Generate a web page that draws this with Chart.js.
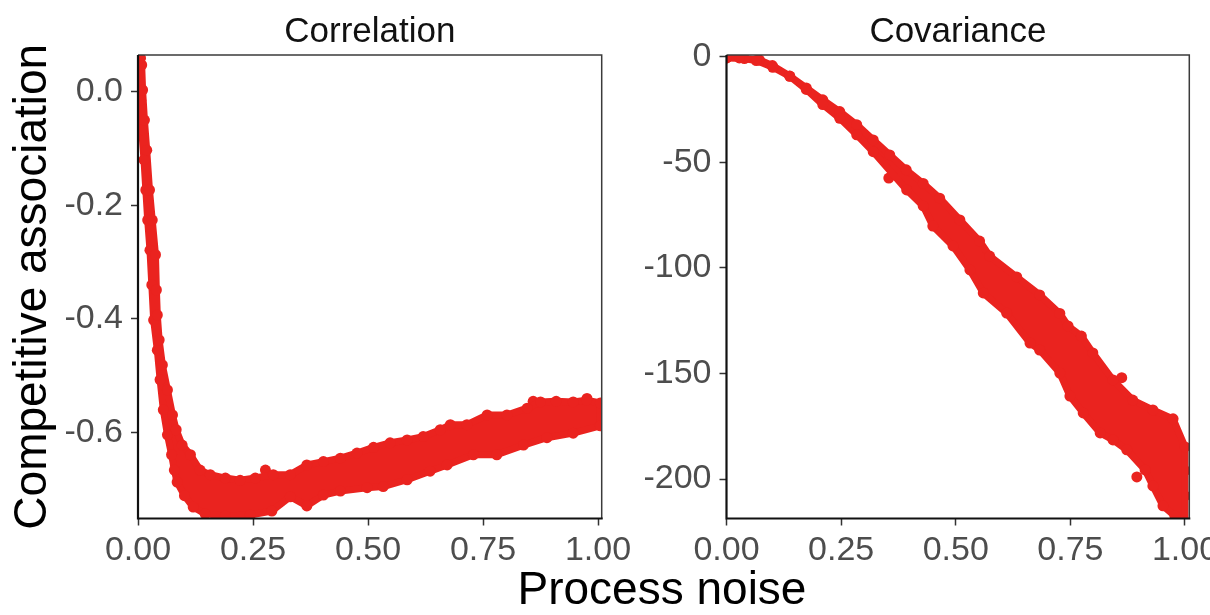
<!DOCTYPE html>
<html lang="en">
<head>
<meta charset="utf-8">
<title>Competitive association vs process noise</title>
<script src="https://cdn.jsdelivr.net/npm/chart.js@4.4.1/dist/chart.umd.min.js"></script>
<style>
  html, body { margin: 0; padding: 0; background: #fff; overflow: hidden; }
  #stage { position: relative; width: 1210px; height: 615px; overflow: hidden; }
  canvas { position: absolute; top: 0; }
  #corrChart { left: 0; }
  #covChart { left: 640px; }
  #xTitle {
    position: absolute; left: 662px; top: 565px; transform: translateX(-50%);
    font: 46px 'Liberation Sans', Arial, sans-serif; line-height: 46px;
    color: #000; white-space: nowrap;
  }
</style>
</head>
<body>
<div id="stage">
  <canvas id="corrChart" width="660" height="615"></canvas>
  <canvas id="covChart" width="600" height="615"></canvas>
  <div id="xTitle">Process noise</div>
</div>
<script>
// Shared x axis (process noise)
const xTicks = [0, 0.25, 0.5, 0.75, 1];
const xTickLabels = ['0.00', '0.25', '0.50', '0.75', '1.00'];

// Correlation panel
const corrYTicks = [0, -0.2, -0.4, -0.6];
const corrYTickLabels = ['0.0', '-0.2', '-0.4', '-0.6'];
// outer edge of the cloud: down the steep drop, then along the bottom
const corrOuterX = [0.005, 0.006, 0.008, 0.013, 0.017, 0.021, 0.026, 0.030, 0.034, 0.042,
                    0.048, 0.055, 0.064, 0.073, 0.079, 0.085, 0.101, 0.120, 0.146, 0.190,
                    0.244, 0.291, 0.331, 0.367, 0.403, 0.440, 0.498, 0.533, 0.585, 0.635,
                    0.672, 0.729, 0.780, 0.838, 0.889, 0.946, 1.005];
const corrOuterY = [0.059, -0.015, -0.067, -0.120, -0.173, -0.226, -0.279, -0.340, -0.402, -0.455,
                    -0.507, -0.560, -0.604, -0.639, -0.666, -0.687, -0.711, -0.731, -0.743, -0.747,
                    -0.745, -0.738, -0.713, -0.729, -0.710, -0.703, -0.697, -0.695, -0.683, -0.668,
                    -0.657, -0.639, -0.639, -0.622, -0.609, -0.601, -0.588];
// inner edge: back along the top of the cloud, then up the drop
const corrInnerX = [1.005, 0.975, 0.946, 0.909, 0.875, 0.846, 0.802, 0.759, 0.715, 0.679,
                    0.657, 0.620, 0.585, 0.548, 0.512, 0.476, 0.440, 0.403, 0.367, 0.331,
                    0.294, 0.255, 0.222, 0.190, 0.157, 0.135, 0.114, 0.096, 0.083, 0.075,
                    0.064, 0.053, 0.046, 0.042, 0.040, 0.038, 0.031, 0.025, 0.019, 0.014,
                    0.010, 0.008];
const corrInnerY = [-0.548, -0.543, -0.546, -0.545, -0.546, -0.557, -0.569, -0.569, -0.586, -0.586,
                    -0.595, -0.607, -0.613, -0.618, -0.626, -0.636, -0.645, -0.651, -0.657, -0.674,
                    -0.674, -0.680, -0.684, -0.680, -0.674, -0.666, -0.639, -0.622, -0.595, -0.569,
                    -0.525, -0.481, -0.437, -0.393, -0.349, -0.287, -0.226, -0.173, -0.103, -0.050,
                    0.003, 0.047];
// single runs sticking out of the cloud
const corrStrayX = [0.277, 0.859, 0.976];
const corrStrayY = [-0.666, -0.545, -0.540];

// Covariance panel
const covYTicks = [0, -50, -100, -150, -200];
const covYTickLabels = ['0', '-50', '-100', '-150', '-200'];
const covUpperX = [0.000, 0.039, 0.072, 0.100, 0.138, 0.174, 0.210, 0.247, 0.284, 0.320,
                   0.356, 0.392, 0.429, 0.465, 0.509, 0.552, 0.574, 0.633, 0.683, 0.727,
                   0.745, 0.774, 0.799, 0.843, 0.886, 0.930, 0.974, 1.000];
const covUpperY = [-0.6, -0.9, -1.6, -4.2, -9.2, -14.8, -20.4, -26.0, -32.2, -39.4,
                   -46.5, -53.6, -60.0, -67.0, -77.3, -87.3, -94.4, -104.3, -112.8, -121.6,
                   -127.5, -132.3, -140.3, -153.1, -162.6, -167.3, -171.5, -184.8];
const covLowerX = [0.000, 0.028, 0.065, 0.101, 0.138, 0.174, 0.210, 0.247, 0.284, 0.320,
                   0.393, 0.429, 0.450, 0.494, 0.531, 0.560, 0.611, 0.662, 0.683, 0.727,
                   0.749, 0.778, 0.815, 0.843, 0.873, 0.913, 0.930, 0.952, 0.978, 1.000];
const covLowerY = [-0.4, -0.6, -1.8, -5.0, -9.3, -15.5, -22.7, -29.2, -37.0, -45.0,
                   -63.1, -70.7, -80.2, -89.6, -101.0, -111.9, -121.4, -135.6, -138.9, -149.8,
                   -160.7, -168.7, -178.2, -181.5, -186.2, -195.7, -203.3, -212.7, -217.5, -220.3];
const covStrayX = [0.354, 0.862, 0.895, 1.000, 1.000];
const covStrayY = [-57.5, -152.0, -199.0, -196.0, -208.0];

const RED = 'rgb(234, 35, 31)';
const FONT = "'Liberation Sans', Arial, Helvetica, sans-serif";
const DOT = 5.5;

function toPoints(xs, ys) {
    return xs.map((x, i) => ({ x: x, y: ys[i] }));
}

// close the outline back onto its first point
function closeRing(points) {
    return points.concat([points[0]]);
}

// Panel box: thin top/right edges, heavier axis lines drawn over the points
const panelFrame = {
    id: 'panelFrame',
    afterDatasetsDraw(chart) {
        const { ctx, chartArea: a } = chart;
        ctx.save();
        ctx.strokeStyle = '#3b3b3b';
        ctx.lineWidth = 1.5;
        ctx.beginPath();
        ctx.moveTo(a.left, a.top);
        ctx.lineTo(a.right, a.top);
        ctx.lineTo(a.right, a.bottom);
        ctx.stroke();
        ctx.strokeStyle = '#111';
        ctx.lineWidth = 2.2;
        ctx.beginPath();
        ctx.moveTo(a.left, a.top);
        ctx.lineTo(a.left, a.bottom);
        ctx.lineTo(a.right + 1, a.bottom);
        ctx.stroke();
        ctx.restore();
    }
};

// Facet label centred over the plotting area
const panelTitle = {
    id: 'panelTitle',
    afterDraw(chart, args, opts) {
        const { ctx, chartArea: a } = chart;
        ctx.save();
        ctx.font = '35px ' + FONT;
        ctx.fillStyle = '#111';
        ctx.textAlign = 'center';
        ctx.textBaseline = 'alphabetic';
        ctx.fillText(opts.text, (a.left + a.right) / 2, a.top - 13);
        ctx.restore();
    }
};

function axisOptions(o) {
    return {
        type: 'linear',
        min: o.min,
        max: o.max,
        afterBuildTicks: scale => {
            scale.ticks = o.ticks.map(v => ({ value: v }));
        },
        afterFit: scale => {
            // fixed axis sizes so both panels line up
            if (o.width !== undefined) scale.width = o.width;
            if (o.height !== undefined) scale.height = o.height;
            scale.paddingLeft = scale.paddingRight = 0;
            scale.paddingTop = scale.paddingBottom = 0;
        },
        ticks: {
            autoSkip: false,
            maxRotation: 0,
            minRotation: 0,
            padding: o.pad,
            color: '#4d4d4d',
            font: { family: FONT, size: 34 },
            callback: (value, index) => o.labels[index]
        },
        grid: {
            drawOnChartArea: false,
            drawTicks: true,
            tickLength: 7,
            tickWidth: 1.5,
            tickColor: '#333',
            color: 'rgba(0,0,0,0)'
        },
        border: { display: false },
        title: o.title ? {
            display: true,
            text: o.title,
            color: '#000',
            font: { family: FONT, size: 46 },
            padding: { top: 6, bottom: 0 }
        } : { display: false }
    };
}

function cloudDatasets(outline, strays) {
    const dot = {
        pointRadius: DOT,
        pointHoverRadius: DOT,
        pointBackgroundColor: RED,
        pointBorderWidth: 0,
        pointBorderColor: RED
    };
    return [
        // dense part of the cloud: filled outline with a dot on every
        // outermost run; the stroke keeps narrow stretches solid
        Object.assign({
            data: closeRing(outline),
            fill: 'shape',
            backgroundColor: RED,
            borderColor: RED,
            borderWidth: 7,
            borderJoinStyle: 'round',
            borderCapStyle: 'round',
            tension: 0
        }, dot),
        Object.assign({
            data: strays,
            showLine: false,
            fill: false
        }, dot)
    ];
}

function makePanel(canvasId, cfg) {
    return new Chart(document.getElementById(canvasId), {
        type: 'line',
        data: { datasets: cloudDatasets(cfg.outline, cfg.strays) },
        options: {
            responsive: false,
            animation: false,
            devicePixelRatio: 1,
            events: [],
            layout: { padding: cfg.padding },
            plugins: {
                legend: { display: false },
                tooltip: { enabled: false },
                panelTitle: { text: cfg.title }
            },
            scales: {
                x: axisOptions({
                    min: cfg.xMin, max: cfg.xMax, ticks: xTicks, labels: xTickLabels,
                    height: 60, pad: 5
                }),
                y: axisOptions({
                    min: cfg.yMin, max: cfg.yMax, ticks: cfg.yTicks, labels: cfg.yLabels,
                    width: cfg.yWidth, pad: 8, title: cfg.yTitle
                })
            }
        },
        plugins: [panelFrame, panelTitle]
    });
}

makePanel('corrChart', {
    title: 'Correlation',
    outline: toPoints(corrOuterX.concat(corrInnerX), corrOuterY.concat(corrInnerY)),
    strays: toPoints(corrStrayX, corrStrayY),
    xMin: 0, xMax: 1.008,
    yMin: -0.7512, yMax: 0.0646,
    yTicks: corrYTicks, yLabels: corrYTickLabels,
    yWidth: 138,
    yTitle: 'Competitive association',
    padding: { left: 0, top: 55, right: 58.3, bottom: 36.5 }
});

makePanel('covChart', {
    title: 'Covariance',
    outline: toPoints(covUpperX.concat(covLowerX.slice().reverse()),
                      covUpperY.concat(covLowerY.slice().reverse())),
    strays: toPoints(covStrayX, covStrayY),
    xMin: 0, xMax: 1.0094,
    yMin: -218.7, yMax: 0.8,
    yTicks: covYTicks, yLabels: covYTickLabels,
    yWidth: 86.5,
    padding: { left: 0, top: 55, right: 50.7, bottom: 36.5 }
});
</script>
</body>
</html>
